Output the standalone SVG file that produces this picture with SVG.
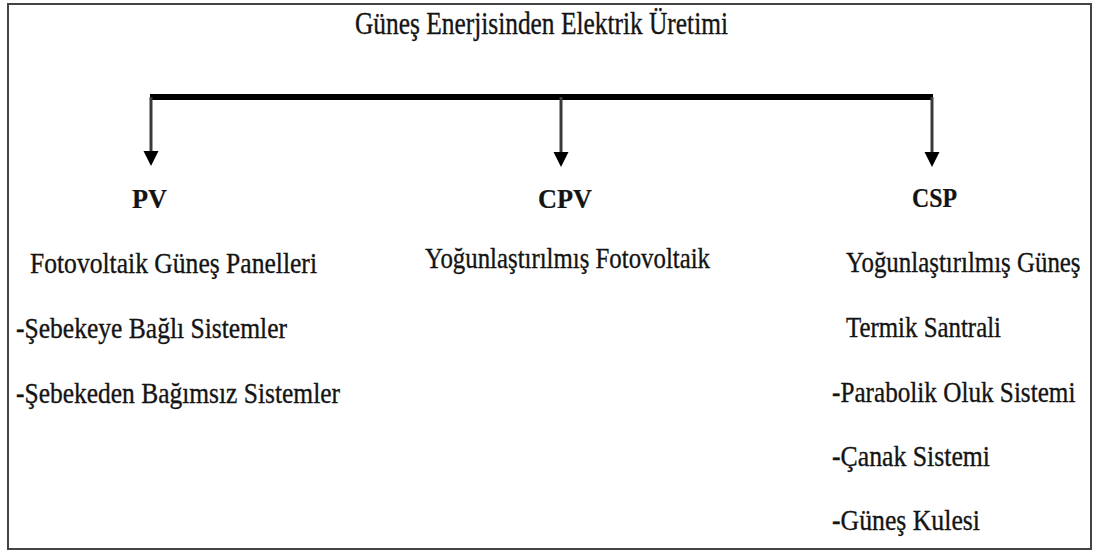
<svg xmlns="http://www.w3.org/2000/svg" width="1093" height="551" viewBox="0 0 1093 551">
<style>
  text { font-family: "Liberation Serif", "Times New Roman", serif; fill: #141414; stroke: #141414; stroke-width: 0.35; font-size: 30px; }
  .t { font-size: 31px; }
  .h { font-weight: bold; font-size: 28px; stroke-width: 0.2; }
  .drop { stroke: #3a3a3a; stroke-width: 3; fill: none; }
  .bar { stroke: #000; stroke-width: 6; fill: none; }
</style>
<defs>
  <marker id="arrow" markerUnits="userSpaceOnUse" markerWidth="15" markerHeight="16" viewBox="0 0 15 16" refX="0" refY="7.5" orient="auto">
    <path d="M0,0 L15,7.5 L0,15 z" fill="#000"/>
  </marker>
</defs>
<rect x="8" y="4" width="1083" height="545" fill="#fff" stroke="#444" stroke-width="2"/>
<g id="title">
  <text class="t" x="355" y="34" textLength="373" lengthAdjust="spacingAndGlyphs">Güneş Enerjisinden Elektrik Üretimi</text>
</g>
<g id="connectors">
  <path class="bar" d="M150,97 H933"/>
  <path class="drop" d="M151,97 V151" marker-end="url(#arrow)"/>
  <path class="drop" d="M561,97 V152" marker-end="url(#arrow)"/>
  <path class="drop" d="M932,97 V152" marker-end="url(#arrow)"/>
</g>
<g id="pv">
  <text class="h" x="132" y="208" textLength="35" lengthAdjust="spacingAndGlyphs">PV</text>
  <text x="30" y="273" textLength="287" lengthAdjust="spacingAndGlyphs">Fotovoltaik Güneş Panelleri</text>
  <text x="16" y="338" textLength="271" lengthAdjust="spacingAndGlyphs">-Şebekeye Bağlı Sistemler</text>
  <text x="16" y="403" textLength="324" lengthAdjust="spacingAndGlyphs">-Şebekeden Bağımsız Sistemler</text>
</g>
<g id="cpv">
  <text class="h" x="538" y="208" textLength="54" lengthAdjust="spacingAndGlyphs">CPV</text>
  <text x="425" y="268" textLength="285" lengthAdjust="spacingAndGlyphs">Yoğunlaştırılmış Fotovoltaik</text>
</g>
<g id="csp">
  <text class="h" x="912" y="207" textLength="45" lengthAdjust="spacingAndGlyphs">CSP</text>
  <text transform="translate(846,272) scale(0.83,1)" x="0" y="0">Yoğunlaştırılmış Güneş</text>
  <text x="846" y="337" textLength="155" lengthAdjust="spacingAndGlyphs">Termik Santrali</text>
  <text transform="translate(832,402) scale(0.84,1)" x="0" y="0">-Parabolik Oluk Sistemi</text>
  <text x="832" y="466" textLength="158" lengthAdjust="spacingAndGlyphs">-Çanak Sistemi</text>
  <text x="832" y="530" textLength="148" lengthAdjust="spacingAndGlyphs">-Güneş Kulesi</text>
</g>
</svg>
